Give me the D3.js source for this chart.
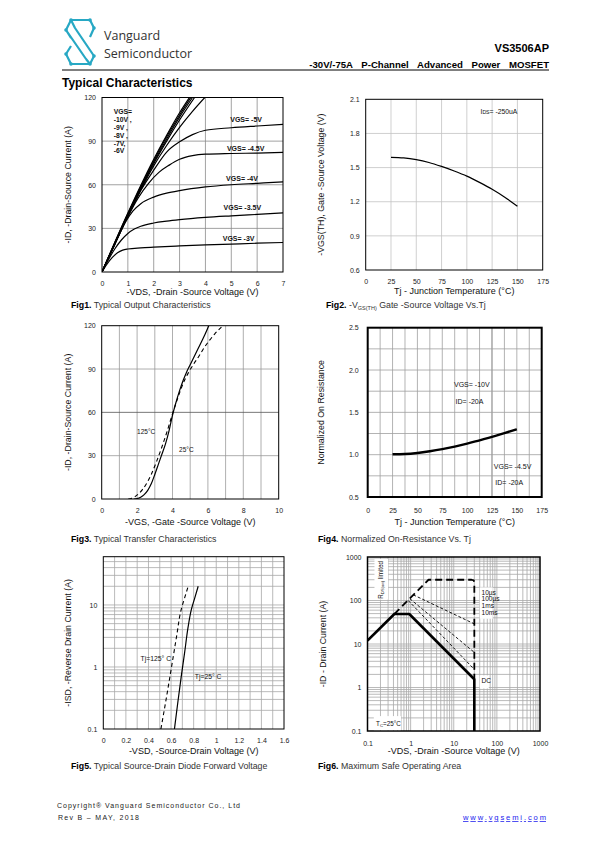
<!DOCTYPE html>
<html><head><meta charset="utf-8">
<script src="https://cdn.jsdelivr.net/npm/d3@7"></script>
<style>body{margin:0;background:#fff}</style>
</head><body>
<svg id="page" width="595" height="842" xmlns="http://www.w3.org/2000/svg"></svg>
<script>
// ---------------- DATA ----------------
// Fig1: Output characteristics  [-VDS (V), -ID (A)]
const fig1XTicks = [0,1,2,3,4,5,6,7];
const fig1YTicks = [0,30,60,90,120];
const fig1Vgs10 = [[0,0],[1,40.5],[2,77.5],[2.5,94],[3,109.5],[3.4,120.5]];
const fig1Vgs9  = [[0,0],[1,40],[2,76.5],[2.5,93],[3,108],[3.45,120.5]];
const fig1Vgs8  = [[0,0],[1,39.5],[2,75.5],[2.5,91.5],[3,106.5],[3.52,120.5]];
const fig1Vgs7  = [[0,0],[1,39],[2,74.5],[2.5,90],[3,104.5],[3.6,120.5]];
const fig1Vgs6  = [[0,0],[1,38.5],[2,73],[2.5,87],[3,99.5],[3.5,110.5],[4.0,120.5]];
const fig1Vgs5  = [[0,0],[0.5,19.5],[1,38.5],[1.5,56],[2,70],[2.5,82.5],[3,89.5],[3.5,94.5],[4,97.5],[5,99.2],[6,100.4],[7,101.5]];
const fig1Vgs45 = [[0,0],[0.5,19.5],[1,38],[1.4,51],[1.8,61],[2.2,68.5],[2.6,73.5],[3,77.5],[3.5,80],[4,81],[5,81.5],[6,81.8],[7,82.2]];
const fig1Vgs4  = [[0,0],[0.5,19],[0.9,34],[1.2,42],[1.5,47],[2,51.5],[2.5,54.2],[3,56],[4,58.5],[5,60],[6,61],[7,62]];
const fig1Vgs35 = [[0,0],[0.25,8.5],[0.5,16],[0.75,22],[1,26.5],[1.25,29.5],[1.5,31.5],[2,33.7],[2.5,35],[3,36],[4,37.5],[5,38.6],[6,39.6],[7,40.6]];
const fig1Vgs3  = [[0,0],[0.2,5.5],[0.4,10],[0.6,13.2],[0.8,15],[1,15.8],[1.5,16.6],[2,17.1],[3,17.9],[4,18.6],[5,19.2],[6,19.8],[7,20.3]];
const fig1Labels = ["VGS= -5V","VGS= -4.5V","VGS= -4V","VGS= -3.5V","VGS= -3V"];
const fig1BundleLabels = ["VGS=","-10V ,","-9V ,","-8V ,","-7V,","-6V"];

// Fig2: VGS(TH) vs Tj  [Tj (°C), -VGS(TH) (V)]
const fig2XTicks = [0,25,50,75,100,125,150,175];
const fig2YTicks = [0.6,0.9,1.2,1.5,1.8,2.1];
const fig2Vth = [[25,1.59],[37.5,1.585],[50,1.57],[62.5,1.545],[75,1.51],[87.5,1.47],[100,1.425],[112.5,1.37],[125,1.31],[137.5,1.24],[150,1.16]];

// Fig3: Transfer characteristics [-VGS (V), -ID (A)]
const fig3XTicks = [0,2,4,6,8,10];
const fig3YTicks = [0,30,60,90,120];
const fig3T25  = [[1.8,0],[2.0,0.3],[2.2,1.2],[2.4,3],[2.6,6],[2.8,10.5],[3.0,17],[3.2,24],[3.4,31],[3.6,38],[3.8,47],[4.0,58],[4.2,67],[4.4,75],[4.6,82],[4.8,88],[5.0,93],[5.4,103],[5.8,113],[6.05,120]];
const fig3T125 = [[1.5,0],[1.7,0.5],[1.9,1.8],[2.1,3.8],[2.3,6.5],[2.5,10],[2.8,17],[3.1,26],[3.4,36],[3.7,47],[4.0,59],[4.3,70],[4.6,80],[4.9,87.5],[5.2,93.5],[5.5,99],[5.8,105],[6.1,110],[6.4,114.5],[6.8,119.5]];

// Fig4: Normalized RDS(on) vs Tj
const fig4XTicks = [0,25,50,75,100,125,150,175];
const fig4YTicks = [0.5,1.0,1.5,2.0,2.5];
const fig4Ron = [[25,1.005],[37.5,1.008],[50,1.02],[62.5,1.04],[75,1.065],[87.5,1.095],[100,1.13],[112.5,1.17],[125,1.21],[137.5,1.255],[150,1.3]];

// Fig5: Source-drain diode forward voltage [-VSD (V), -ISD (A)]
const fig5XTicks = [0,0.2,0.4,0.6,0.8,1,1.2,1.4,1.6];
const fig5XLabels = ["0","0.2","0.4","0.6","0.8","1","1.2","1.4","1.6"];
const fig5YTicks = [0.1,1,10];
const fig5YLabels = ["0.1","1","10"];
const fig5T25  = [[0.63,0.1],[0.66,0.27],[0.69,0.7],[0.72,1.7],[0.75,4.3],[0.78,8.5],[0.81,13],[0.84,20]];
const fig5T125 = [[0.51,0.1],[0.56,0.33],[0.6,0.9],[0.65,3.2],[0.69,8.5],[0.72,13],[0.75,19.5]];

// Fig6: Safe operating area [-VDS (V), -ID (A)]
const fig6Ticks = [0.1,1,10,100,1000];
const fig6Labels = ["0.1","1","10","100","1000"];
const fig6DC     = [[0.1,12],[0.42,49],[0.93,49],[30,1.55],[30,0.1]];
const fig6T10us  = [[0.42,49],[2.6,300],[26,300],[29,290],[30,260],[30,1.6]];
const fig6T100us = [[1.15,135],[30,29]];
const fig6T1ms   = [[0.96,110],[30,6.4]];
const fig6T10ms  = [[0.88,100],[30,2.6]];
const fig6PulseLabels = ["10µs","100µs","1ms","10ms"];

// ---------------- DRAWING ----------------
const svg = d3.select("#page");
const NARROW = "'Liberation Sans Narrow','Liberation Sans',Arial,sans-serif";
const SANS = "'Liberation Sans',Arial,Helvetica,sans-serif";
const defs = svg.append("defs");

function panel(c){
  const g = svg.append("g");
  const x = (c.xLog ? d3.scaleLog() : d3.scaleLinear()).domain(c.xDomain).range([c.left, c.right]);
  const y = (c.yLog ? d3.scaleLog() : d3.scaleLinear()).domain(c.yDomain).range([c.bottom, c.top]);
  g.append("g").selectAll("line").data(c.xGrid).join("line")
    .attr("x1", d => x(d)).attr("x2", d => x(d)).attr("y1", c.top).attr("y2", c.bottom)
    .attr("stroke", d => (c.xDark||[]).includes(d) ? "#555" : c.gridColor).attr("stroke-width", 0.8);
  g.append("g").selectAll("line").data(c.yGrid).join("line")
    .attr("y1", d => y(d)).attr("y2", d => y(d)).attr("x1", c.left).attr("x2", c.right)
    .attr("stroke", d => (c.yDark||[]).includes(d) ? "#555" : c.gridColor).attr("stroke-width", 0.8);
  const ax = g.append("g").attr("transform", `translate(0,${c.bottom})`)
    .call(d3.axisBottom(x).tickValues(c.xTicks).tickFormat(c.xFmt).tickSize(0).tickPadding(c.xPad||8));
  ax.select(".domain").remove();
  ax.selectAll("text").attr("font-family", NARROW).attr("font-size", 7).attr("fill", "#222");
  const ay = g.append("g").attr("transform", `translate(${c.left},0)`)
    .call(d3.axisLeft(y).tickValues(c.yTicks).tickFormat(c.yFmt).tickSize(0).tickPadding(c.yPad||6));
  ay.select(".domain").remove();
  ay.selectAll("text").attr("font-family", NARROW).attr("font-size", 7).attr("fill", "#222");
  const id = "clip" + c.id;
  defs.append("clipPath").attr("id", id).append("rect")
    .attr("x", c.left).attr("y", c.top).attr("width", c.right - c.left).attr("height", c.bottom - c.top);
  g.append("rect").attr("x", c.left).attr("y", c.top).attr("width", c.right - c.left).attr("height", c.bottom - c.top)
    .attr("fill", "none").attr("stroke", "#000").attr("stroke-width", c.frameW || 1);
  const plot = g.append("g").attr("clip-path", `url(#${id})`);
  g.append("text").attr("x", (c.left + c.right) / 2 + (c.xTitleDx||0)).attr("y", c.xTitleY)
    .attr("text-anchor", "middle").attr("font-family", SANS).attr("font-size", 9).attr("fill", "#111").text(c.xTitle);
  g.append("text").attr("transform", `translate(${c.yTitleX},${(c.top + c.bottom) / 2}) rotate(-90)`)
    .attr("text-anchor", "middle").attr("font-family", c.yTitleFont || SANS).attr("font-size", 8.8).attr("fill", "#111").text(c.yTitle);
  return {g, x, y, plot};
}

function line(p, data, opt){
  const gen = d3.line().x(d => p.x(d[0])).y(d => p.y(d[1])).curve(opt.curve || d3.curveLinear);
  p.plot.append("path").attr("d", gen(data)).attr("fill", "none").attr("stroke", "#000")
    .attr("stroke-width", opt.w || 1.2).attr("stroke-dasharray", opt.dash || null)
    .attr("stroke-linejoin", "round");
}

function caption(x, y, bold){
  const t = svg.append("text").attr("x", x).attr("y", y).attr("font-family", SANS).attr("font-size", 8.8).attr("fill", "#333");
  t.append("tspan").attr("font-weight", "bold").attr("fill", "#000").text(bold);
  return t;
}

function label(p, xv, yv, txt, opt = {}){
  return p.g.append("text").attr("x", p.x(xv)).attr("y", p.y(yv)).attr("font-family", NARROW)
    .attr("font-size", opt.size || 6.5).attr("font-weight", opt.bold ? "bold" : null)
    .attr("text-anchor", opt.anchor || "start").attr("fill", "#111").text(txt);
}

// ----- Header -----
const logo = svg.append("g").attr("transform", "translate(66,19)")
  .attr("fill", "none").attr("stroke", "#27a8c4").attr("stroke-width", 2.2).attr("stroke-linejoin", "round");
logo.append("path").attr("d", "M24,1 L5,1 L0,11 L5,19 M5,1 L9,9 L28,37 M0,11 L20,40 M28,37 L24,45 L5,45 L0,35 M24,45 L20,40 M24,1 L28,9 L24,18 M0,35 L5,27");
[[5,1],[24,1],[0,11],[28,9],[5,45],[24,45],[0,35],[28,37]].forEach(p =>
  logo.append("circle").attr("cx", p[0]).attr("cy", p[1]).attr("r", 1.8).attr("fill", "#27a8c4").attr("stroke", "none"));
svg.append("text").attr("x", 104).attr("y", 40).attr("font-family", "'Open Sans',sans-serif").attr("font-size", 12.5).attr("fill", "#333").text("Vanguard");
svg.append("text").attr("x", 104).attr("y", 58).attr("font-family", "'Open Sans',sans-serif").attr("font-size", 12.5).attr("fill", "#333").text("Semiconductor");
svg.append("text").attr("x", 549).attr("y", 52).attr("text-anchor", "end").attr("font-family", SANS).attr("font-weight", "bold").attr("font-size", 11).text("VS3506AP");
svg.append("text").attr("x", 549).attr("y", 67.5).attr("text-anchor", "end").attr("font-family", SANS).attr("font-weight", "bold").attr("font-size", 9.6)
  .attr("word-spacing", 6).text("-30V/-75A P-Channel Advanced Power MOSFET");
svg.append("line").attr("x1", 62).attr("x2", 549).attr("y1", 70).attr("y2", 70).attr("stroke", "#000").attr("stroke-width", 1);
svg.append("text").attr("x", 62).attr("y", 87).attr("font-family", SANS).attr("font-weight", "bold").attr("font-size", 12).text("Typical Characteristics");

// ----- Fig1 -----
const p1 = panel({id:1, left:102, right:283, top:97.5, bottom:272, xDomain:[0,7], yDomain:[0,120],
  xGrid:[1,2,3,4,5,6], yGrid:[30,60,90], gridColor:"#8a8a8a", xTicks:fig1XTicks, yTicks:fig1YTicks,
  xFmt:d3.format("d"), yFmt:d3.format("d"), xPad:9, yPad:6, frameW:1,
  xTitle:"-VDS, -Drain -Source Voltage (V)", xTitleY:295, yTitle:"-ID, -Drain-Source Current (A)", yTitleX:71});
[fig1Vgs10, fig1Vgs9, fig1Vgs8, fig1Vgs7, fig1Vgs6, fig1Vgs5, fig1Vgs45, fig1Vgs4, fig1Vgs35, fig1Vgs3]
  .forEach(d => line(p1, d, {curve:d3.curveMonotoneX, w:1.2}));
[[4.96,103],[4.83,83.3],[4.8,62.8],[4.7,42.4],[4.67,21.5]].forEach((pos,i) => label(p1, pos[0], pos[1], fig1Labels[i], {bold:true, size:7}));
fig1BundleLabels.forEach((t,i) => label(p1, 0.45, 108.5 - i*5.4, t, {bold:true, size:6.8}));
caption(71, 308, "Fig1.").append("tspan").text(" Typical Output Characteristics");

// ----- Fig2 -----
const p2 = panel({id:2, left:365.7, right:542.7, top:99.3, bottom:270, xDomain:[0,175], yDomain:[0.6,2.1],
  xGrid:[25,50,75,100,125,150], yGrid:[0.9,1.2,1.5,1.8], gridColor:"#c4c4c4", xTicks:fig2XTicks, yTicks:fig2YTicks,
  xFmt:d3.format("d"), yFmt:d3.format(".1f"), xPad:9, yPad:6, frameW:1,
  xTitle:"Tj - Junction Temperature (\u00B0C)", xTitleY:294, yTitle:"-VGS(TH), Gate -Source Voltage (V)", yTitleX:324});
line(p2, fig2Vth, {curve:d3.curveMonotoneX, w:1.2});
{
  const t = label(p2, 113.5, 1.97, "I", {size:6.8});
  t.append("tspan").attr("font-size", 5.2).text("DS");
  t.append("tspan").text("= -250uA");
}
{
  const c = caption(326, 308, "Fig2.");
  c.append("tspan").text(" -V");
  c.append("tspan").attr("font-size", 5.5).attr("dy", 1.5).text("GS(TH)");
  c.append("tspan").attr("dy", -1.5).text(" Gate -Source Voltage Vs.Tj");
}

// ----- Fig3 -----
const p3 = panel({id:3, left:101.7, right:278.7, top:325.7, bottom:499, xDomain:[0,10], yDomain:[0,120],
  xGrid:[1,2,3,4,5,6,7,8,9], yGrid:[30,60,90], yDark:[60], gridColor:"#9a9a9a", xTicks:fig3XTicks, yTicks:fig3YTicks,
  xFmt:d3.format("d"), yFmt:d3.format("d"), xPad:9, yPad:6, frameW:1,
  xTitle:"-VGS, -Gate -Source Voltage (V)", xTitleY:525, yTitle:"-ID, -Drain-Source Current (A)", yTitleX:71});
line(p3, fig3T125, {curve:d3.curveMonotoneX, w:1.1, dash:"4,3"});
line(p3, fig3T25, {curve:d3.curveMonotoneX, w:1.2});
label(p3, 2.0, 45.2, "125\u00B0C", {size:6.5});
label(p3, 4.37, 32.2, "25\u00B0C", {size:6.5});
caption(71, 542, "Fig3.").append("tspan").text(" Typical Transfer Characteristics");

// ----- Fig4 -----
const p4 = panel({id:4, left:367.7, right:541.7, top:327.7, bottom:497, xDomain:[0,175], yDomain:[0.5,2.5],
  xGrid:d3.range(12.5,175,12.5), yGrid:d3.range(0.75,2.5,0.25), xDark:[125], gridColor:"#a0a0a0", xTicks:fig4XTicks, yTicks:fig4YTicks,
  xFmt:d3.format("d"), yFmt:d3.format(".1f"), xPad:11, yPad:9, frameW:2,
  xTitle:"Tj - Junction Temperature (\u00B0C)", xTitleY:525, yTitle:"Normalized On Resistance", yTitleX:324, yTitleFont:NARROW});
line(p4, fig4Ron, {curve:d3.curveMonotoneX, w:2.4});
label(p4, 86.8, 1.8, "VGS= -10V", {size:7});
label(p4, 88.4, 1.594, "ID= -20A", {size:7});
label(p4, 126.8, 0.83, "VGS= -4.5V", {size:7});
label(p4, 128.4, 0.64, "ID= -20A", {size:7});
caption(318, 542, "Fig4.").append("tspan").text(" Normalized On-Resistance Vs. Tj");

// ----- Fig5 -----
const fig5YGrid = [0.2,0.3,0.4,0.5,0.6,0.7,0.8,0.9,1,2,3,4,5,6,7,8,9,10,20,30,40,50];
const p5 = panel({id:5, left:103.3, right:284, top:556.7, bottom:729, xDomain:[0,1.6], yDomain:[0.1,60], yLog:true,
  xGrid:d3.range(1,16).map(i => i/10), yGrid:fig5YGrid, gridColor:"#a8a8a8", xTicks:fig5XTicks, yTicks:fig5YTicks,
  xFmt:(d,i) => fig5XLabels[i], yFmt:(d,i) => fig5YLabels[i], xPad:9, yPad:6, frameW:1,
  xTitle:"-VSD, -Source-Drain Voltage (V)", xTitleY:754, yTitle:"-ISD, -Reverse Drain Current (A)", yTitleX:71});
line(p5, fig5T125, {curve:d3.curveMonotoneY, w:1.1, dash:"4,3"});
line(p5, fig5T25, {curve:d3.curveMonotoneY, w:1.2});
label(p5, 0.33, 1.25, "Tj=125\u00B0 C", {size:6.8});
label(p5, 0.81, 0.63, "Tj=25\u00B0 C", {size:6.8});
caption(71, 769, "Fig5.").append("tspan").text(" Typical Source-Drain Diode Forward Voltage");

// ----- Fig6 -----
const logGrid = [];
[0.1,1,10,100].forEach(b => { for (let k = 2; k <= 9; k++) logGrid.push(b*k); });
[1,10,100].forEach(b => logGrid.push(b));
const p6 = panel({id:6, left:367.5, right:540, top:557, bottom:731, xDomain:[0.1,1000], yDomain:[0.1,1000], xLog:true, yLog:true,
  xGrid:logGrid, yGrid:logGrid, gridColor:"#a8a8a8", xTicks:fig6Ticks, yTicks:fig6Ticks,
  xFmt:(d,i) => fig6Labels[i], yFmt:(d,i) => fig6Labels[i], xPad:10, yPad:6, frameW:1.5,
  xTitle:"-VDS, -Drain -Source Voltage (V)", xTitleY:754, yTitle:"-ID - Drain Current (A)", yTitleX:326});
function box(p, x0, x1, y0, y1){
  p.plot.append("rect").attr("x", p.x(x0)).attr("y", p.y(y1)).attr("width", p.x(x1) - p.x(x0)).attr("height", p.y(y0) - p.y(y1)).attr("fill", "#fff");
}
box(p6, 0.145, 0.3, 105, 900);
box(p6, 40, 80, 38, 200);
box(p6, 40, 65, 0.95, 1.9);
box(p6, 0.14, 0.6, 0.105, 0.22);
line(p6, fig6T100us, {w:0.9, dash:"3,2"});
line(p6, fig6T1ms, {w:0.9, dash:"3,2"});
line(p6, fig6T10ms, {w:0.9, dash:"3,2"});
line(p6, fig6T10us, {w:1.8, dash:"7,4"});
line(p6, fig6DC, {w:2.6});
fig6PulseLabels.forEach((t,i) => label(p6, 44, [135,95,67,46][i], t, {size:6.6}));
label(p6, 44, 1.28, "DC", {size:6.6});
{
  const t = p6.g.append("text").attr("transform", `translate(${p6.x(0.23)},${p6.y(110)}) rotate(-90)`)
    .attr("font-family", NARROW).attr("font-size", 6.3).attr("fill", "#111");
  t.append("tspan").text("R");
  t.append("tspan").attr("font-size", 4.2).attr("dy", 1.2).text("DS(on)");
  t.append("tspan").attr("dy", -1.2).text(" limited");
}
{
  const t = label(p6, 0.158, 0.132, "T", {size:6.3});
  t.append("tspan").attr("font-size", 4.3).attr("dy", 1.2).text("C");
  t.append("tspan").attr("dy", -1.2).text("=25\u00B0C");
}
caption(318, 769, "Fig6.").append("tspan").text(" Maximum Safe Operating Area");

// ----- Footer -----
svg.append("text").attr("x", 57).attr("y", 807.5).attr("font-family", SANS).attr("font-size", 7).attr("fill", "#222")
  .attr("textLength", 183).attr("lengthAdjust", "spacing").text("Copyright\u00AE Vanguard Semiconductor Co., Ltd");
svg.append("text").attr("x", 58).attr("y", 820).attr("font-family", SANS).attr("font-size", 7).attr("fill", "#222")
  .attr("textLength", 81).attr("lengthAdjust", "spacing").text("Rev B \u2013 MAY, 2018");
svg.append("text").attr("x", 463).attr("y", 820).attr("font-family", SANS).attr("font-size", 7.6).attr("fill", "#1a1aee")
  .attr("text-decoration", "underline").attr("textLength", 83).attr("lengthAdjust", "spacing").text("www.vgsemi.com");
</script>
</body></html>
